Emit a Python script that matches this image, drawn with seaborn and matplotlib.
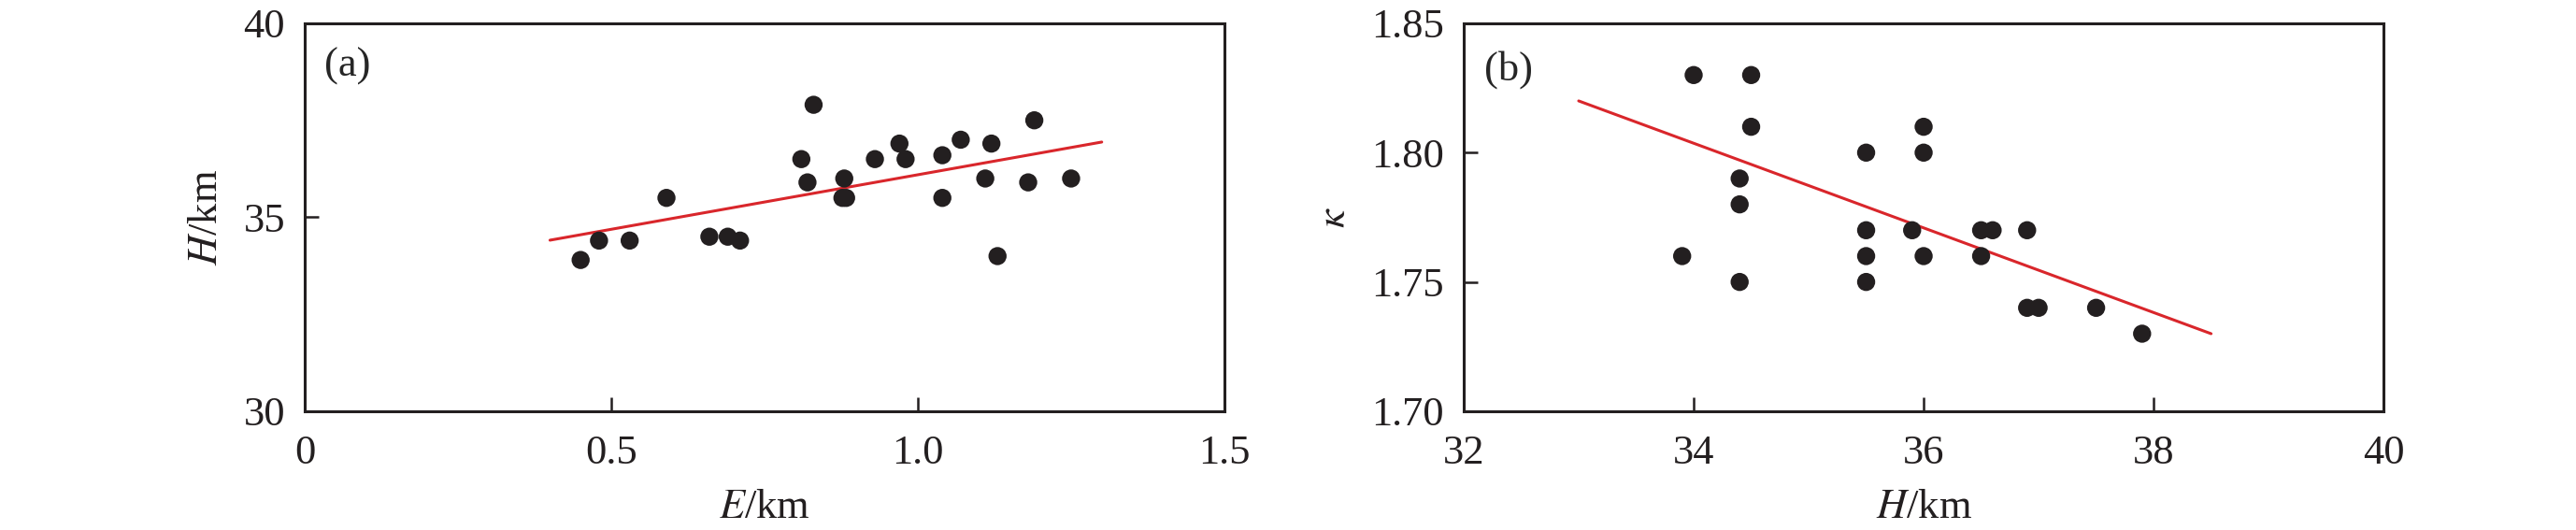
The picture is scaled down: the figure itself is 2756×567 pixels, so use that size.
import numpy as np
import pandas as pd
import matplotlib
matplotlib.use("Agg")
import matplotlib.pyplot as plt
import seaborn as sns

# ---- data panel (a): E (km) vs H (km)
E_a = [0.45, 0.48, 0.53, 0.59, 0.66, 0.69, 0.71, 0.81, 0.82, 0.83, 0.88, 0.877, 0.883,
       0.93, 0.97, 0.98, 1.04, 1.04, 1.07, 1.11, 1.12, 1.13, 1.18, 1.19, 1.25]
H_a = [33.9, 34.4, 34.4, 35.5, 34.5, 34.5, 34.4, 36.5, 35.9, 37.9, 36.0, 35.5, 35.5,
       36.5, 36.9, 36.5, 35.5, 36.6, 37.0, 36.0, 36.9, 34.0, 35.9, 37.5, 36.0]
fit_a_x = [0.40, 1.30]
fit_a_y = [34.41, 36.94]

# ---- data panel (b): H (km) vs kappa
H_b = [33.9, 34.0, 34.5, 34.5, 34.4, 34.4, 34.4, 35.5, 35.5, 35.5, 35.5, 35.9,
       36.0, 36.0, 36.0, 36.5, 36.6, 36.5, 36.9, 36.9, 37.0, 37.5, 37.9]
K_b = [1.76, 1.83, 1.83, 1.81, 1.79, 1.78, 1.75, 1.80, 1.77, 1.76, 1.75, 1.77,
       1.81, 1.80, 1.76, 1.77, 1.77, 1.76, 1.77, 1.74, 1.74, 1.74, 1.73]
fit_b_x = [33.0, 38.5]
fit_b_y = [1.82, 1.73]

xticks_a = [0, 0.5, 1.0, 1.5]
xticklabels_a = ["0", "0.5", "1.0", "1.5"]
yticks_a = [30, 35, 40]
xticks_b = [32, 34, 36, 38, 40]
yticks_b = [1.70, 1.75, 1.80, 1.85]
yticklabels_b = ["1.70", "1.75", "1.80", "1.85"]

sns.set_theme(style="ticks")
plt.rcParams["font.family"] = ["Liberation Serif", "DejaVu Serif"]
plt.rcParams["mathtext.fontset"] = "stix"
plt.rcParams["axes.linewidth"] = 2.2
plt.rcParams["axes.edgecolor"] = "#231f20"

FS = 32
DOT = "#231f20"
RED = "#d9262b"

fig = plt.figure(figsize=(27.56, 5.67), dpi=100)
ax1 = fig.add_axes([0.1183, 0.224, 0.3570, 0.732])
ax2 = fig.add_axes([0.5682, 0.224, 0.3571, 0.732])

df_a = pd.DataFrame({"E": E_a, "H": H_a})
df_fa = pd.DataFrame({"x": fit_a_x, "y": fit_a_y})
df_b = pd.DataFrame({"H": H_b, "K": K_b})
df_fb = pd.DataFrame({"x": fit_b_x, "y": fit_b_y})

sns.scatterplot(data=df_a, x="E", y="H", ax=ax1, s=195, color=DOT, edgecolor="none", zorder=3)
sns.lineplot(data=df_fa, x="x", y="y", ax=ax1, color=RED, linewidth=2.2, zorder=2)
sns.scatterplot(data=df_b, x="H", y="K", ax=ax2, s=195, color=DOT, edgecolor="none", zorder=3)
sns.lineplot(data=df_fb, x="x", y="y", ax=ax2, color=RED, linewidth=2.2, zorder=2)

ax1.set_xlim(0, 1.5)
ax1.set_ylim(30, 40)
ax1.set_xticks(xticks_a)
ax1.set_xticklabels(xticklabels_a)
ax1.set_yticks(yticks_a)
ax1.set_xlabel(r"$E$/km", fontsize=FS, labelpad=13)
ax1.set_ylabel(r"$H$/km", fontsize=FS, labelpad=14)
ax1.text(0.021, 0.89, "(a)", transform=ax1.transAxes, fontsize=FS, va="center", ha="left")

ax2.set_xlim(32, 40)
ax2.set_ylim(1.70, 1.85)
ax2.set_xticks(xticks_b)
ax2.set_yticks(yticks_b)
ax2.set_yticklabels(yticklabels_b)
ax2.set_xlabel(r"$H$/km", fontsize=FS, labelpad=13)
ax2.set_ylabel(r"$\kappa$", fontsize=FS, labelpad=14)
ax2.text(0.022, 0.88, "(b)", transform=ax2.transAxes, fontsize=FS, va="center", ha="left")

for ax in (ax1, ax2):
    for s in ax.spines.values():
        s.set_visible(True)
        s.set_linewidth(2.2)
        s.set_color("#231f20")
    ax.tick_params(axis="both", direction="in", length=11, width=1.8,
                   labelsize=FS, pad=15, colors="#231f20",
                   top=False, right=False)
    ax.tick_params(axis="x", pad=18)
    ax.xaxis.label.set_color("#231f20")
    ax.yaxis.label.set_color("#231f20")

fig.savefig("out.png", dpi=100, facecolor="white")
